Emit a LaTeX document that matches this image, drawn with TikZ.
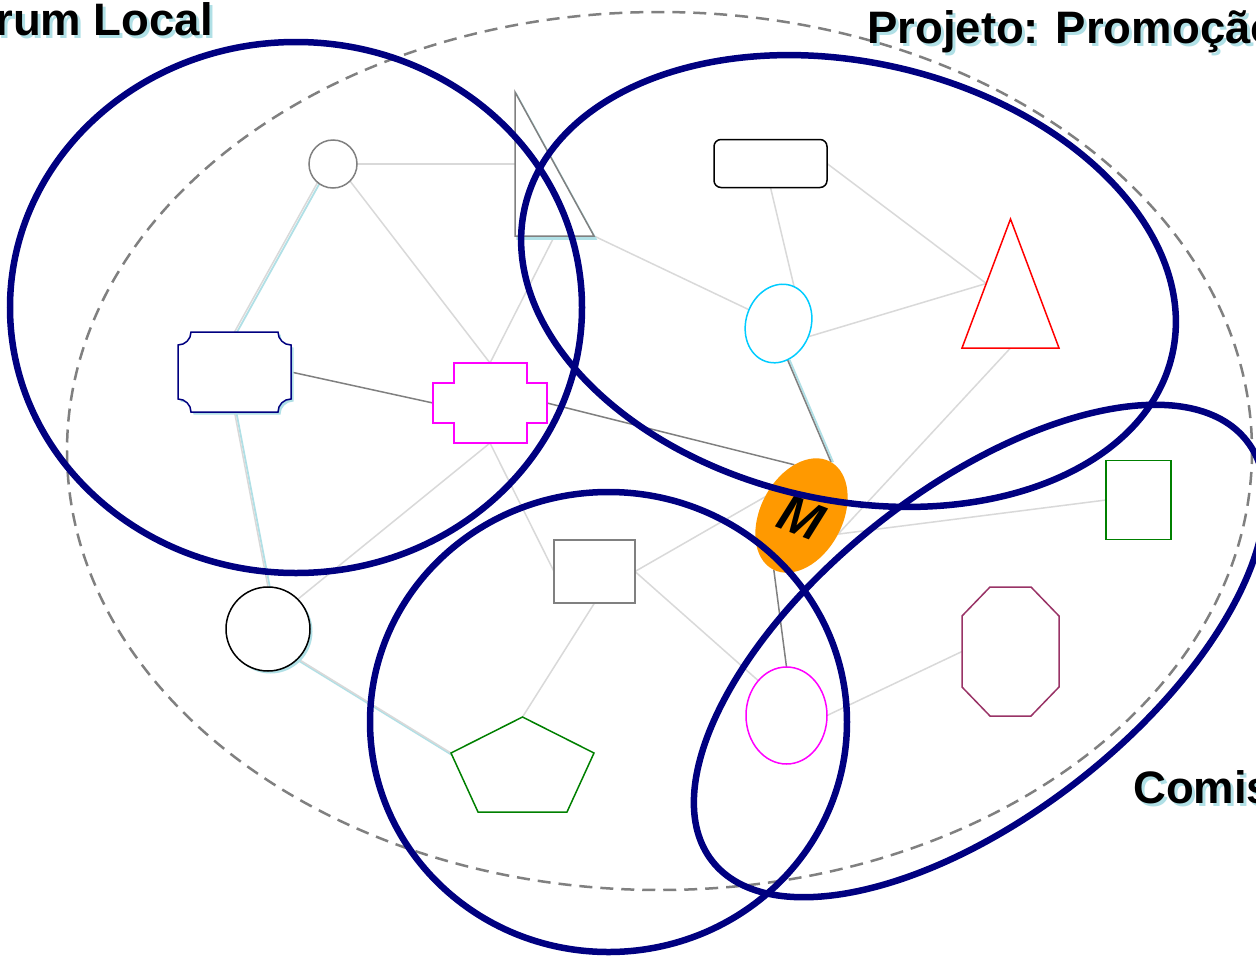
\documentclass[tikz,border=0pt]{standalone}
\usepackage{fontspec}
\setmainfont{Liberation Sans}
\usetikzlibrary{shapes.geometric,calc}
\definecolor{navyc}{RGB}{0,0,128}
\definecolor{shadowc}{RGB}{176,224,230}
\definecolor{lightedge}{RGB}{217,217,217}
\definecolor{darkedge}{RGB}{128,128,128}
\definecolor{skyc}{RGB}{0,204,255}
\definecolor{orangec}{RGB}{255,153,0}
\definecolor{maroonc}{RGB}{153,51,102}
\definecolor{greenc}{RGB}{0,128,0}
\definecolor{magc}{RGB}{255,0,255}
\begin{document}
\begin{tikzpicture}[x=1pt,y=-1pt,
  lightline/.style={draw=lightedge, line width=1.5pt},
  darkline/.style={draw=darkedge, line width=1.5pt},
  shadowline/.style={draw=shadowc, line width=1.8pt},
  shapeline/.style={line width=1.5pt, fill=white},
  shadowfill/.style={fill=shadowc, draw=shadowc, line width=1.5pt},
  bigring/.style={draw=navyc, line width=6.5pt},
  dashring/.style={draw=darkedge, line width=2.5pt, dash pattern=on 13pt off 8pt},
  box/.style={inner sep=0pt, outer sep=0pt},
  titletext/.style={font=\fontsize{45.5}{50}\selectfont\bfseries, inner sep=0pt},
]
\useasboundingbox (0,0) rectangle (1256,956);
\clip (0,0) rectangle (1256,956);
\fill[white] (0,0) rectangle (1256,956);

% ---------- invisible frames of the shapes (for anchors) ----------
\node[box, minimum width=79pt, minimum height=144pt] (t1) at (554.5,164) {};
\node[box, minimum width=97pt, minimum height=129pt] (t2) at (1010.5,283.5) {};
\node[box, minimum width=113pt, minimum height=80pt] (b1) at (234.5,372) {};
\node[box, minimum width=114pt, minimum height=80pt] (x1) at (490,403) {};
\node[box, minimum width=97pt, minimum height=129pt] (o1) at (1010.5,651.5) {};
\node[box, minimum width=143pt, minimum height=95pt] (p1) at (522.5,764.5) {};
\coordinate (t2l) at ($(t2.north)!0.5!(t2.south west)$);
\coordinate (p1l) at (451,753);

% ---------- shapes with real node shapes ----------
\node[box, circle, minimum size=48pt] (c1) at (333,164) {};
\node[box, circle, minimum size=84pt] (c2) at (268,629) {};
\node[box, rectangle, minimum width=113pt, minimum height=48pt] (r1) at (770.5,163.5) {};
\node[box, ellipse, minimum width=65pt, minimum height=80pt, rotate=-19] (e1) at (778.5,323.5) {};
\node[box, rectangle, minimum width=81pt, minimum height=63pt] (s1) at (594.5,571.5) {};
\node[box, rectangle, minimum width=65pt, minimum height=79pt] (g1) at (1138.5,500) {};
\node[box, ellipse, minimum width=81pt, minimum height=97pt] (e2) at (786.5,715.5) {};
\node[box, ellipse, minimum width=82pt, minimum height=122pt, rotate=-28] (m) at (801.5,515.5) {};

% ---------- connectors ----------
\draw[lightline] (c1.east) -- (t1.west);
\draw[lightline] (c1.-45) -- (x1.north);
\draw[lightline] (t1.south) -- (x1.north);
\draw[lightline] (t1.south east) -- (e1.174);
\draw[lightline] (r1.south) -- (e1.86);
\draw[lightline] (r1.east) -- (t2l);
\draw[lightline] (e1.-5) -- (t2l);
\draw[lightline] (t2.south) -- (m.1);
\draw[lightline] (g1.west) -- (m.1);
\draw[lightline] (x1.south) -- (c2.45);
\draw[lightline] (x1.south) -- (s1.west);
\draw[lightline] (s1.east) -- (m.181);
\draw[lightline] (s1.east) -- (e2.129);
\draw[lightline] (s1.south) -- (p1.north);
\draw[lightline] (e2.east) -- (o1.west);
% shadowed light connectors
\draw[shadowline] ([shift={(2,1)}]c1.230) -- ([shift={(2,1)}]b1.north);
\draw[lightline] (c1.230) -- (b1.north);
\draw[shadowline] ([shift={(2,1)}]b1.south) -- ([shift={(2,1)}]c2.north);
\draw[lightline] (b1.south) -- (c2.north);
\draw[shadowline] ([shift={(1,2)}]c2.-45) -- ([shift={(1,2)}]p1l);
\draw[lightline] (c2.-45) -- (p1l);
% dark connectors
\draw[darkline] (b1.east) -- (x1.west);
\draw[darkline] (x1.east) -- (m.126);
\draw[darkline] (m.-89) -- (e2.north);
\draw[shadowline] ([shift={(2,0)}]e1.-57) -- ([shift={(2,0)}]m.89);
\draw[darkline] (e1.-57) -- (m.89);

% ---------- shapes ----------
% C1
\draw[shapeline, draw=darkedge] (c1.center) circle[radius=24];
% T1 (with shadow)
\draw[shadowfill] ([shift={(2,3)}]t1.north west) -- ([shift={(2,3)}]t1.south west) -- ([shift={(2,3)}]t1.south east) -- cycle;
\draw[shapeline, draw=darkedge] (t1.north west) -- (t1.south west) -- (t1.south east) -- cycle;
% R1
\draw[shapeline, draw=black, rounded corners=7pt] (r1.north west) rectangle (r1.south east);
% E1
\draw[shapeline, draw=skyc, rotate around={-19:(e1.center)}] (e1.center) ellipse[x radius=32.5, y radius=40];
% T2
\draw[shapeline, draw=red] (t2.north) -- (t2.south east) -- (t2.south west) -- cycle;
% B1 (with shadow)
\begin{scope}[shift={(2.5,2.5)}]
\fill[shadowc] (191,332) -- (278,332) .. controls (278,339.2) and (283.8,345) .. (291,345)
 -- (291,399) .. controls (283.8,399) and (278,404.8) .. (278,412)
 -- (191,412) .. controls (191,404.8) and (185.2,399) .. (178,399)
 -- (178,345) .. controls (185.2,345) and (191,339.2) .. (191,332) -- cycle;
\end{scope}
\draw[shapeline, draw=navyc] (191,332) -- (278,332) .. controls (278,339.2) and (283.8,345) .. (291,345)
 -- (291,399) .. controls (283.8,399) and (278,404.8) .. (278,412)
 -- (191,412) .. controls (191,404.8) and (185.2,399) .. (178,399)
 -- (178,345) .. controls (185.2,345) and (191,339.2) .. (191,332) -- cycle;
% X1
\draw[shapeline, draw=magc] (454,363) -- (527,363) -- (527,383) -- (547,383) -- (547,423)
 -- (527,423) -- (527,443) -- (454,443) -- (454,423) -- (433,423) -- (433,383) -- (454,383) -- cycle;
% S1
\draw[shapeline, draw=darkedge, line width=2pt] (s1.north west) rectangle (s1.south east);
% G1
\draw[shapeline, draw=greenc] (g1.north west) rectangle (g1.south east);
% C2 (with shadow)
\fill[shadowc] ([shift={(2.5,2.5)}]c2.center) circle[radius=42];
\draw[shapeline, draw=black] (c2.center) circle[radius=42];
% O1
\draw[shapeline, draw=maroonc] (990,587) -- (1031,587) -- (1059,616) -- (1059,687) -- (1031,716)
 -- (990,716) -- (962,687) -- (962,616) -- cycle;
% E2
\draw[shapeline, draw=magc] (e2.center) ellipse[x radius=40.5, y radius=48.5];
% P1
\draw[shapeline, draw=greenc] (p1.north) -- (594,753) -- (567,812) -- (478,812) -- (p1l) -- cycle;
% M
\fill[orangec, rotate around={-28:(m.center)}] (m.center) ellipse[x radius=41, y radius=61];
\node[rotate=-21, font=\fontsize{52}{56}\selectfont\bfseries\itshape, inner sep=0pt] (mlabel) at ([shift={(0,2)}]m.center) {M};

% ---------- group outlines ----------
\draw[dashring] (659.5,451) ellipse[x radius=592.5, y radius=439];
\draw[bigring] (296,307.5) ellipse[x radius=286, y radius=265.5];
\draw[bigring, rotate around={-12.8:(848.5,281)}] (848.5,281) ellipse[x radius=332, y radius=219];
\draw[bigring] (608.5,722) ellipse[x radius=238.5, y radius=230];
\draw[bigring, rotate around={38.2:(979.5,651)}] (979.5,651) ellipse[x radius=340, y radius=163];

% ---------- titles ----------
\node[titletext, text=shadowc, anchor=base east] at (216,38) {Fórum Local};
\node[titletext, anchor=base east] (tforum) at (213,35) {Fórum Local};
\node[titletext, text=shadowc, anchor=base west] at (870,46) {Projeto: Promoção};
\node[titletext, anchor=base west] (tproj) at (867,43) {Projeto: Promoção};
\node[titletext, text=shadowc, anchor=base west] at (1136,806) {Comissão};
\node[titletext, anchor=base west] (tcom) at (1133,803) {Comissão};
\end{tikzpicture}
\end{document}
